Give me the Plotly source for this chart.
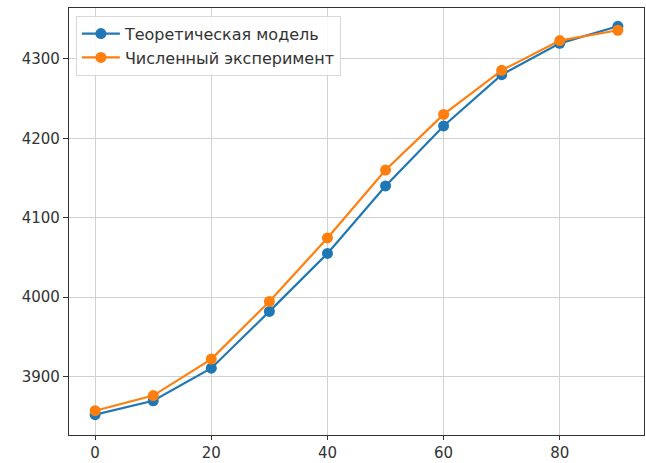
import plotly.graph_objects as go

# Angle values and the two compared series
x_vals = [0, 10, 20, 30, 40, 50, 60, 70, 80, 90]
theory = [3852, 3869.5, 3910.5, 3982, 4055, 4140, 4215.5, 4280, 4319.5, 4341]
numeric = [3857, 3876, 3922, 3994.5, 4074.5, 4160, 4230, 4285.5, 4323, 4336]

name_theory = "Теоретическая модель"
name_numeric = "Численный эксперимент"

x_ticks = [0, 20, 40, 60, 80]
y_ticks = [3900, 4000, 4100, 4200, 4300]

blue = "#1f77b4"
orange = "#ff7f0e"

fig = go.Figure()
fig.add_trace(go.Scatter(
    x=x_vals, y=theory, name=name_theory, mode="lines+markers",
    line=dict(color=blue, width=2.2), marker=dict(color=blue, size=11),
))
fig.add_trace(go.Scatter(
    x=x_vals, y=numeric, name=name_numeric, mode="lines+markers",
    line=dict(color=orange, width=2.2), marker=dict(color=orange, size=11),
))

axis_common = dict(
    showline=True, linecolor="#333333", linewidth=1.3, mirror=True,
    showgrid=True, gridcolor="#d0d0d0", gridwidth=1.4,
    ticks="outside", tickcolor="#333333", tickwidth=1,
    zeroline=False, automargin=False,
    tickfont=dict(family="DejaVu Sans", size=15, color="#333333"),
)

fig.update_xaxes(range=[-4.5, 94.5], tickvals=x_ticks, ticklen=4, **axis_common)
fig.update_yaxes(range=[3826.4, 4364], tickvals=y_ticks, ticklen=5, **axis_common)

fig.update_layout(
    width=646, height=463,
    margin=dict(l=69, r=2, t=8, b=28),
    paper_bgcolor="white", plot_bgcolor="white",
    font=dict(family="DejaVu Sans", size=15, color="#333333"),
    legend=dict(
        x=0.012, y=0.982, xanchor="left", yanchor="top",
        bgcolor="rgba(255,255,255,0.85)", bordercolor="#d8d8d8", borderwidth=1,
        font=dict(size=16, color="#333333"), tracegroupgap=0, itemwidth=38,
    ),
    showlegend=True,
)

fig.write_html("out.html")
